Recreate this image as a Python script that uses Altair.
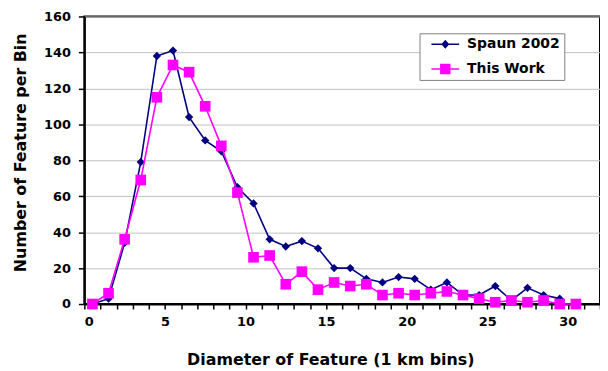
import altair as alt
import pandas as pd

# ---- data ----
spaun_bins = [0.5, 1.5, 2.5, 3.5, 4.5, 5.5, 6.5, 7.5, 8.5, 9.5,
              10.5, 11.5, 12.5, 13.5, 14.5, 15.5, 16.5, 17.5, 18.5, 19.5,
              20.5, 21.5, 22.5, 23.5, 24.5, 25.5, 26.5, 27.5, 28.5, 29.5]
spaun_counts = [0, 3, 34, 79, 138, 141, 104, 91, 85, 65,
                56, 36, 32, 35, 31, 20, 20, 14, 12, 15,
                14, 8, 12, 5, 5, 10, 2, 9, 5, 3]

work_bins = [0.5, 1.5, 2.5, 3.5, 4.5, 5.5, 6.5, 7.5, 8.5, 9.5,
             10.5, 11.5, 12.5, 13.5, 14.5, 15.5, 16.5, 17.5, 18.5, 19.5,
             20.5, 21.5, 22.5, 23.5, 24.5, 25.5, 26.5, 27.5, 28.5, 29.5, 30.5]
work_counts = [0, 6, 36, 69, 115, 133, 129, 110, 88, 62,
               26, 27, 11, 18, 8, 12, 10, 11, 5, 6,
               5, 6, 7, 5, 3, 1, 2, 1, 2, 0, 0]

series_names = ["Spaun 2002", "This Work"]
series_colors = ["#000080", "#FF00FF"]
x_tick_values = list(range(0, 33))
y_tick_values = [0, 20, 40, 60, 80, 100, 120, 140, 160]

df = pd.concat([
    pd.DataFrame({"series": series_names[0], "bin": spaun_bins, "count": spaun_counts}),
    pd.DataFrame({"series": series_names[1], "bin": work_bins, "count": work_counts}),
], ignore_index=True)

FONT = "DejaVu Sans"

x_enc = alt.X(
    "bin:Q",
    scale=alt.Scale(domain=[0, 32], nice=False, zero=False),
    axis=alt.Axis(
        values=x_tick_values,
        labelExpr="datum.value % 5 === 0 ? datum.label : ''",
        title="Diameter of Feature (1 km bins)",
        grid=False,
        tickSize=5,
        labelPadding=7,
        titleX=248,
        titleY=61,
        titleAlign="center",
        titleBaseline="alphabetic",
    ),
)
y_enc = alt.Y(
    "count:Q",
    scale=alt.Scale(domain=[0, 160], nice=False),
    axis=alt.Axis(
        values=y_tick_values,
        title="Number of Feature per Bin",
        grid=True,
        tickSize=6,
        labelPadding=8,
        titleX=-64,
        titleY=137,
        titleAngle=270,
        titleAlign="center",
        titleBaseline="middle",
    ),
)

base = alt.Chart(df)


def series_layers(name, color, shape, size):
    sub = base.transform_filter(alt.datum.series == name)
    line = sub.mark_line(color=color, strokeWidth=1.6).encode(x=x_enc, y=y_enc)
    pts = sub.mark_point(shape=shape, filled=True, color=color, size=size, opacity=1).encode(x=x_enc, y=y_enc)
    return [line, pts]


legend_paths = [
    "M-2,-0.1H2V0.1H-2Z M-0.58,0L0,-0.66L0.58,0L0,0.66Z",
    "M-2,-0.1H2V0.1H-2Z M-0.75,-0.75H0.75V0.75H-0.75Z",
]

legend = alt.Legend(
    title=None,
    orient="none",
    legendX=338,
    legendY=17,
    padding=4,
    symbolSize=196,
    symbolStrokeWidth=0,
    symbolOffset=15,
    labelOffset=15,
    rowPadding=11,
    labelFont=FONT,
    labelFontSize=14,
    labelFontWeight="bold",
    labelColor="black",
    labelExpr="datum.label + '\u00a0'",
    strokeColor="#808080",
    fillColor="white",
    cornerRadius=0,
)

legend_layer = base.transform_filter("false").mark_point(filled=True, opacity=1).encode(
    x=x_enc,
    y=y_enc,
    color=alt.Color("series:N", scale=alt.Scale(domain=series_names, range=series_colors), legend=legend),
    shape=alt.Shape("series:N", scale=alt.Scale(domain=series_names, range=legend_paths), legend=legend),
)

layers = (
    series_layers(series_names[0], series_colors[0], "diamond", 70)
    + series_layers(series_names[1], series_colors[1], "square", 115)
    + [legend_layer]
)

chart = (
    alt.layer(*layers)
    .properties(
        width=520,
        height=290,
        autosize=alt.AutoSizeParams(type="none"),
        padding={"left": 77, "top": 7, "right": 0, "bottom": 65},
        background="white",
    )
    .configure_view(stroke="black", strokeWidth=2)
    .configure_axis(
        domainColor="black",
        domainWidth=2,
        tickColor="black",
        tickWidth=1.5,
        labelFont=FONT,
        labelFontSize=13,
        labelFontWeight="bold",
        labelColor="black",
        titleFont=FONT,
        titleFontSize=16,
        titleFontWeight="bold",
        titleColor="black",
        gridColor="#c0c0c0",
        gridWidth=1,
    )
)

chart.save("out.html", embed_options={"renderer": "svg", "actions": False})
